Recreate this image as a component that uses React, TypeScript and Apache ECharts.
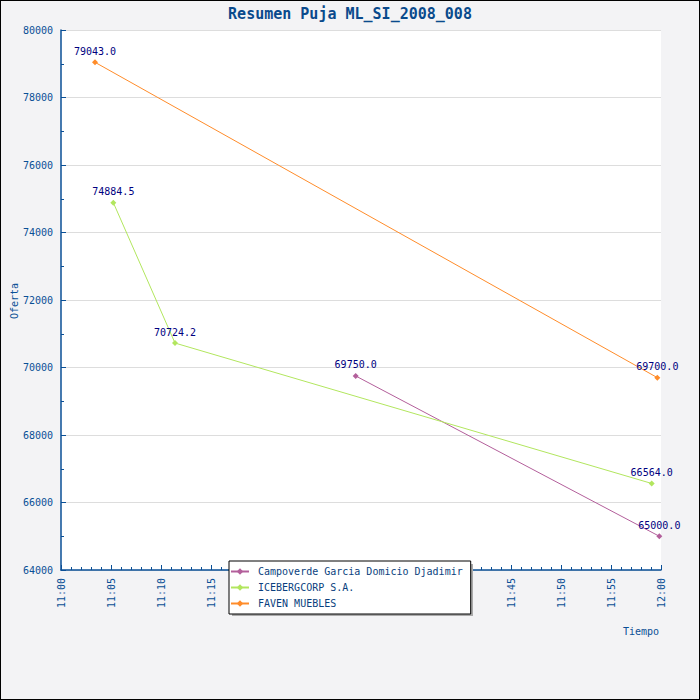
import React, { useEffect, useRef } from "react";
import * as echarts from "echarts";

const TITLE = "Resumen Puja ML_SI_2008_008";
const SERIES_NAMES = ["Campoverde Garcia Domicio Djadimir", "ICEBERGCORP S.A.", "FAVEN MUEBLES"];
const COLORS = ["#b35f9b", "#b2e65e", "#ff8c2a"];

const campoverdeTimes = ["11:29:28", "11:59:50"];
const campoverdeValues = [69750.0, 65000.0];
const icebergTimes = ["11:05:14", "11:11:24", "11:59:04"];
const icebergValues = [74884.5, 70724.2, 66564.0];
const favenTimes = ["11:03:24", "11:59:38"];
const favenValues = [79043.0, 69700.0];

const X_MIN = "11:00";
const X_MAX = "12:00";
const Y_MIN = 64000;
const Y_MAX = 80000;
const Y_STEP = 2000;

const MONO = "'DejaVu Sans Mono', 'Liberation Mono', monospace";
const AXIS_BLUE = "#0a4f96";

function toMinutes(t: string): number {
  const p = t.split(":").map(Number);
  return p[0] * 60 + p[1] + (p[2] || 0) / 60;
}

function pairs(times: string[], values: number[]) {
  return times.map((t, i) => [toMinutes(t), values[i]]);
}

export default function App() {
  const ref = useRef<HTMLDivElement>(null);
  useEffect(() => {
    if (!ref.current) return;
    const chart = echarts.init(ref.current, undefined, { renderer: "svg" });
    const datasets = [
      pairs(campoverdeTimes, campoverdeValues),
      pairs(icebergTimes, icebergValues),
      pairs(favenTimes, favenValues),
    ];
    chart.setOption({
      animation: false,
      backgroundColor: "#f3f3f5",
      title: {
        text: TITLE,
        left: "center",
        top: 1,
        textStyle: { fontFamily: MONO, fontSize: 15, fontWeight: "bold", color: "#0a4a8c" },
      },
      grid: {
        left: 61,
        top: 30,
        right: 39,
        bottom: 130,
        show: true,
        backgroundColor: "#ffffff",
        borderWidth: 0,
      },
      legend: {
        orient: "vertical",
        left: 229,
        top: 561,
        backgroundColor: "#ffffff",
        borderColor: "#000000",
        borderWidth: 1,
        padding: [5, 8, 5, 1],
        itemWidth: 18,
        itemHeight: 8,
        itemGap: 5,
        textStyle: { fontFamily: MONO, fontSize: 10, color: "#0a3f7e", lineHeight: 11, padding: [0, 0, 0, 4] },
        data: SERIES_NAMES,
      },
      xAxis: {
        type: "value",
        min: toMinutes(X_MIN),
        max: toMinutes(X_MAX),
        interval: 5,
        axisLine: { show: true, lineStyle: { color: AXIS_BLUE, width: 1.5 } },
        axisTick: { show: true, inside: true, length: 5, lineStyle: { color: AXIS_BLUE } },
        minorTick: { show: true, splitNumber: 5, length: 3, lineStyle: { color: AXIS_BLUE } },
        splitLine: { show: false },
        axisLabel: {
          rotate: 90,
          margin: 8,
          fontFamily: MONO,
          fontSize: 10,
          color: AXIS_BLUE,
          formatter: (v: number) => {
            const h = Math.floor(v / 60);
            const m = Math.round(v % 60);
            return `${h}:${m < 10 ? "0" + m : m}`;
          },
        },
      },
      yAxis: {
        type: "value",
        min: Y_MIN,
        max: Y_MAX,
        interval: Y_STEP,
        axisLine: { show: true, lineStyle: { color: AXIS_BLUE, width: 1.5 } },
        axisTick: { show: true, inside: true, length: 5, lineStyle: { color: AXIS_BLUE } },
        minorTick: { show: true, splitNumber: 2, length: 3, lineStyle: { color: AXIS_BLUE } },
        splitLine: { show: true, lineStyle: { color: "#dddddd", width: 1 } },
        axisLabel: {
          margin: 8,
          fontFamily: MONO,
          fontSize: 10,
          color: AXIS_BLUE,
          formatter: (v: number) => String(v),
        },
      },
      graphic: [
        {
          type: "rect",
          z: 1,
          shape: { x: 232, y: 564, width: 241, height: 52 },
          style: { fill: "#aaaaaa" },
        },
        {
          type: "text",
          x: 659,
          y: 631,
          style: {
            text: "Tiempo",
            fontFamily: MONO,
            fontSize: 10,
            fill: AXIS_BLUE,
            align: "right",
            verticalAlign: "middle",
          },
        },
        {
          type: "text",
          x: 14,
          y: 301,
          rotation: Math.PI / 2,
          style: {
            text: "Oferta",
            fontFamily: MONO,
            fontSize: 10,
            fill: AXIS_BLUE,
            align: "center",
            verticalAlign: "middle",
          },
        },
        {
          type: "rect",
          z: 100,
          shape: { x: 0, y: 0, width: 700, height: 700 },
          style: { fill: "none", stroke: "#000000", lineWidth: 2 },
        },
      ],
      series: SERIES_NAMES.map((name, i) => ({
        name,
        type: "line",
        data: datasets[i],
        color: COLORS[i],
        symbol: "diamond",
        symbolSize: 6,
        lineStyle: { width: 1, color: COLORS[i] },
        itemStyle: { color: COLORS[i] },
        clip: false,
        label: {
          show: true,
          position: "top",
          distance: 3,
          fontFamily: MONO,
          fontSize: 10,
          color: "#000080",
          formatter: (p: any) => Number(p.value[1]).toFixed(1),
        },
      })),
    });
    return () => chart.dispose();
  }, []);
  return (
    <div
      ref={ref}
      style={{ position: "absolute", left: 0, top: 0, width: 700, height: 700 }}
    />
  );
}
